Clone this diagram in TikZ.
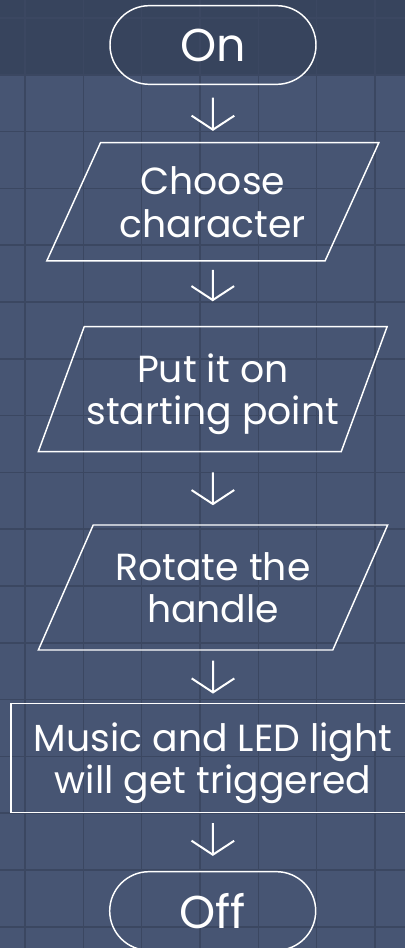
\documentclass[tikz,border=0pt]{standalone}
\usepackage{fontspec}
\setmainfont{Poppins}
\usetikzlibrary{shapes.geometric,shapes.misc,arrows.meta}
\definecolor{bgmain}{HTML}{475573}
\definecolor{bgband}{HTML}{37445D}
\definecolor{gridcol}{HTML}{3B4761}
\tikzset{
  terminal/.style={rounded rectangle, draw=white, line width=1.1pt, text=white,
    minimum width=154.5pt, minimum height=59pt, inner sep=0pt,
    font=\fontsize{34.5}{40}\selectfont},
  iobox/.style={trapezium, trapezium left angle=57.7, trapezium right angle=122.3,
    trapezium stretches=true, draw=white, line width=1.1pt, text=white,
    inner sep=0pt, align=center, text depth=0pt, font=\fontsize{28.3}{32}\selectfont},
  procbox/.style={rectangle, draw=white, line width=1.1pt, text=white,
    inner sep=0pt, align=center, text depth=0pt, font=\fontsize{28.3}{32}\selectfont},
  flow/.style={draw=white, line width=1.5pt,
    -{Straight Barb[length=10.5pt, width=32pt, line width=1.5pt]}},
  gridline/.style={draw=gridcol, line width=1.2pt}
}
\begin{document}
\begin{tikzpicture}[x=0.75pt, y=-0.75pt]
\useasboundingbox (0,0) rectangle (405,948);
% background and grid
\fill[bgmain] (0,0) rectangle (405,948);
\fill[bgband] (0,0) rectangle (405,74);
\foreach \i in {0,...,6} \draw[gridline] ({25+58.33*\i},0) -- ({25+58.33*\i},948);
\foreach \j in {0,...,16} \draw[gridline] (0,{18.1+56.79*\j}) -- (405,{18.1+56.79*\j});

% flowchart nodes
\node[terminal] (on) at (213,45) {On};
\node[iobox, minimum width=249.2pt, minimum height=88.7pt] (choose) at (212.8,201.8) {Choose\\character};
\node[iobox, minimum width=262.5pt, minimum height=93.75pt] (put) at (212.7,389.2) {Put it on\\starting point};
\node[iobox, minimum width=262.5pt, minimum height=93.75pt] (rotate) at (213,587.5) {Rotate the\\handle};
\node[procbox, minimum width=303pt, minimum height=82pt] (music) at (213,758) {Music and LED light\\will get triggered};
\node[terminal] (off) at (212.7,911) {Off};

% connectors
\draw[flow, shorten <=9.5pt, shorten >=8.25pt] (on) -- (choose);
\draw[flow, shorten <=6.2pt, shorten >=18.5pt] (choose) -- (put);
\draw[flow, shorten <=15pt, shorten >=14.25pt] (put) -- (rotate);
\draw[flow, shorten <=7.5pt, shorten >=6.75pt] (rotate) -- (music);
\draw[flow, shorten <=7.2pt, shorten >=11.25pt] (music) -- (off);
\end{tikzpicture}
\end{document}
